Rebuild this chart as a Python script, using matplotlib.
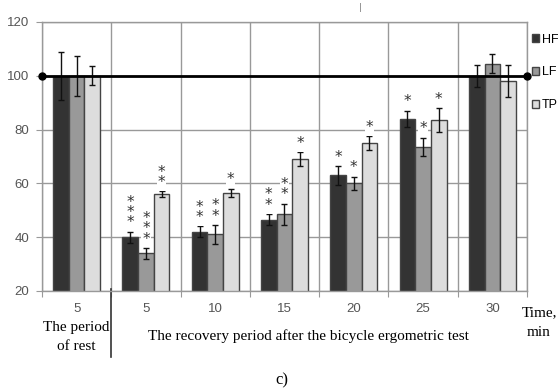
import numpy as np
import matplotlib.pyplot as plt

# data
groups = ["5", "5", "10", "15", "20", "25", "30"]
series = ["HF", "LF", "TP"]
hf = [100, 40, 42, 46.5, 63, 84, 100]
lf = [100, 34, 41, 48.5, 60, 73.5, 104.5]
tp = [100, 56, 56.5, 69, 75, 83.5, 98]
hf_err = [9, 2, 2, 2, 3.5, 3, 4]
lf_err = [7.5, 2, 3.5, 4, 2.5, 3.5, 3.5]
tp_err = [3.5, 1, 1.5, 2.5, 2.5, 4.5, 6]
hf_stars = [0, 3, 2, 2, 1, 1, 0]
lf_stars = [0, 3, 2, 2, 1, 1, 0]
tp_stars = [0, 2, 1, 1, 1, 1, 0]
ref_level = 100

colors = ["#333333", "#999999", "#dddddd"]
grid_c = "#999999"

fig = plt.figure(figsize=(5.58, 3.92), dpi=100)
ax = fig.add_axes([0.0753, 0.2577, 0.8691, 0.6862])

n = len(groups)
centers = np.arange(n) + 0.5
w = 0.226
values = [hf, lf, tp]
errs = [hf_err, lf_err, tp_err]
stars = [hf_stars, lf_stars, tp_stars]

handles = []
for k in range(3):
    x = centers + (k - 1) * w
    b = ax.bar(x, values[k], w, bottom=0, color=colors[k], edgecolor="#444444",
               linewidth=1.0, label=series[k], zorder=2)
    handles.append(b)
    ax.errorbar(x, values[k], yerr=errs[k], fmt="none", ecolor="#111111",
                elinewidth=1.0, capsize=2.2, capthick=1.0, zorder=3)
    for i in range(n):
        if stars[k][i] == 0:
            continue
        top = values[k][i] + errs[k][i]
        ax.annotate("\n".join(["*"] * stars[k][i]), (x[i], top),
                    xytext=(0, 1), textcoords="offset points",
                    ha="center", va="bottom", fontsize=11, linespacing=0.62,
                    color="#333333", family="DejaVu Sans",
                    bbox=dict(boxstyle="square,pad=0.05", fc="white", ec="none"),
                    zorder=4)

ax.plot([0, n], [ref_level, ref_level], color="black", lw=2, marker="o",
        markersize=5, clip_on=False, zorder=5)

ax.set_xlim(0, n)
ax.set_ylim(20, 120)
ax.set_yticks([20, 40, 60, 80, 100, 120])
ax.set_xticks(np.arange(n + 1))
ax.set_xticklabels([])
ax.set_xticks(centers, minor=True)
ax.set_xticklabels(groups, minor=True)
ax.tick_params(axis="x", which="minor", length=0, pad=9, labelsize=9.5,
               labelcolor="#555555")
ax.tick_params(axis="x", which="major", length=4, color=grid_c)
ax.tick_params(axis="y", length=4, color=grid_c, pad=5, labelsize=9.5,
               labelcolor="#555555")
for lab in ax.get_xticklabels(minor=True) + ax.get_yticklabels():
    lab.set_family("Liberation Sans")
ax.grid(True, color=grid_c, lw=1)
ax.set_axisbelow(True)
for sp in ax.spines.values():
    sp.set_color(grid_c)
    sp.set_linewidth(1)

# bottom annotations
tr = ax.get_xaxis_transform()
ax.plot([1, 1], [0.007, -0.245], color="#333333", lw=1.2, transform=tr,
        clip_on=False)
serif = "Liberation Serif"
ax.text(0.5, -0.134, "The period", transform=tr, ha="center", va="center",
        fontsize=11, family=serif)
ax.text(0.5, -0.205, "of rest", transform=tr, ha="center", va="center",
        fontsize=11, family=serif)
ax.text(3.85, -0.167, "The recovery period after the bicycle ergometric test",
        transform=tr, ha="center", va="center", fontsize=11, family=serif)
fig.text(539 / 558, 1 - 313 / 392, "Time,", ha="center", va="center",
         fontsize=11, family=serif)
fig.text(539 / 558, 1 - 333 / 392, "min", ha="center", va="center",
         fontsize=11, family=serif)
fig.text(282 / 558, 1 - 380 / 392, "c)", ha="center", va="center",
         fontsize=12, family=serif)
fig.text(360 / 558, 1 - 8 / 392, "|", ha="center", va="center",
         fontsize=6, color="#777777")

fig.legend(handles=handles, loc="upper left", bbox_to_anchor=(0.953, 0.914),
           frameon=False, handlelength=0.6, handleheight=0.6, handletextpad=0.2,
           labelspacing=1.65, borderpad=0, borderaxespad=0,
           prop={"family": "Liberation Sans", "size": 9})

plt.savefig("out.png", dpi=100)
